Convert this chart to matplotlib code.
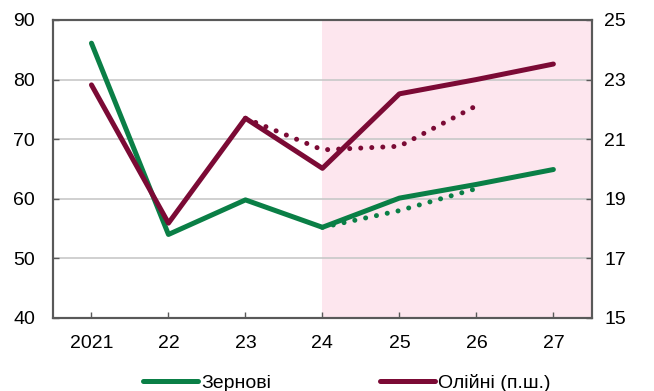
import numpy as np
import matplotlib.pyplot as plt
from matplotlib.lines import Line2D

plt.rcParams['font.family'] = ['Liberation Sans', 'DejaVu Sans']

years = ['2021', '22', '23', '24', '25', '26', '27']

# Зернові, left axis
grain = [86.1, 54.0, 59.8, 55.2, 60.1, 62.4, 64.9]
grain_prev = [55.2, 58.0, 61.7]          # previous forecast, 24-26
# Олійні, right axis (п.ш.)
oil = [22.82, 18.18, 21.7, 20.02, 22.52, 23.0, 23.52]
oil_prev = [21.7, 20.64, 20.76, 22.12]   # previous forecast, 23-26

green = '#0a7f46'
wine = '#7b0a35'
pink = '#fde6ee'
grey = '#595959'
fs = 14

fig = plt.figure(figsize=(6.54, 3.91), dpi=100)
ax = fig.add_axes([0.081, 0.187, 0.824, 0.762])
ax2 = ax.twinx()

x = np.arange(len(years))
ax.axvspan(3, 6.5, color=pink, lw=0, zorder=0)

ax.plot(x, grain, color=green, lw=3.6, solid_capstyle='round', zorder=3)
ax.plot(x[3:6], grain_prev, color=green, lw=3.6, ls=(0, (0.01, 2.2)),
        dash_capstyle='round', zorder=3)
ax2.plot(x, oil, color=wine, lw=3.6, solid_capstyle='round', zorder=3)
ax2.plot(x[2:6], oil_prev, color=wine, lw=3.6, ls=(0, (0.01, 2.2)),
         dash_capstyle='round', zorder=3)

ax.set_xlim(-0.5, 6.5)
ax.set_ylim(40, 90)
ax.set_yticks(range(40, 91, 10))
ax2.set_ylim(15, 25)
ax2.set_yticks(range(15, 26, 2))
ax.set_xticks(x)
ax.set_xticklabels(years)

ax.grid(axis='y', color='#c8c8c8', lw=1.2, zorder=1)
ax.set_axisbelow(True)

for a in (ax, ax2):
    for s in a.spines.values():
        s.set_color(grey)
        s.set_linewidth(1.5)
ax.tick_params(axis='x', direction='in', length=4, width=1, color=grey,
               labelsize=fs, pad=12)
ax.tick_params(axis='y', direction='in', length=4, width=1, color=grey,
               labelsize=fs, pad=13)
ax2.tick_params(axis='y', direction='in', length=4, width=1, color=grey,
                labelsize=fs, pad=9)

handles = [Line2D([], [], color=green, lw=3.6, solid_capstyle='round'),
           Line2D([], [], color=wine, lw=3.6, solid_capstyle='round')]
fig.legend(handles, ['Зернові', 'Олійні (п.ш.)'], loc='center',
           bbox_to_anchor=(0.53, 0.02), ncol=2, frameon=False,
           fontsize=fs, handlelength=2.85, handletextpad=0.15,
           columnspacing=5.6, borderpad=0)

fig.savefig('out.png', dpi=100)
